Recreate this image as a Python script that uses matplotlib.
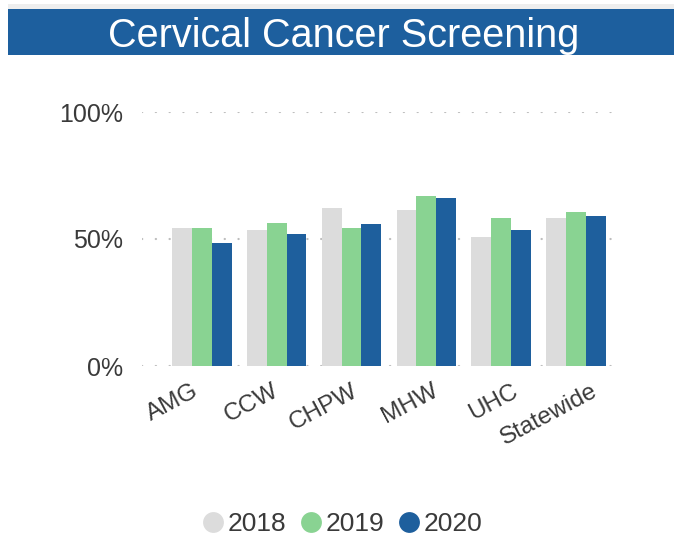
import matplotlib
matplotlib.use("Agg")
import matplotlib.pyplot as plt
import matplotlib.transforms as mtransforms
from matplotlib.patches import Rectangle
from matplotlib.lines import Line2D
import numpy as np

plt.rcParams['font.family'] = ['Liberation Sans', 'DejaVu Sans']

categories = ["AMG", "CCW", "CHPW", "MHW", "UHC", "Statewide"]
years = ["2018", "2019", "2020"]
v2018 = [0.542, 0.536, 0.621, 0.616, 0.509, 0.582]
v2019 = [0.542, 0.562, 0.542, 0.670, 0.582, 0.608]
v2020 = [0.483, 0.519, 0.558, 0.662, 0.537, 0.590]
yticks = [0, 0.5, 1.0]
ytick_labels = ["0%", "50%", "100%"]
title = "Cervical Cancer Screening"

colors = ["#DCDCDC", "#89D392", "#1E5F9D"]
banner = "#1D5F9E"
text_col = "#3A3A3A"

fig = plt.figure(figsize=(6.74, 5.35), dpi=100)
W, H = 674, 535

# light strip and banner
fig.patches.append(Rectangle((8 / W, 1 - 10 / H), 1 - 8 / W, 6 / H, transform=fig.transFigure,
                             facecolor="#EEEEEE", edgecolor="none"))
fig.patches.append(Rectangle((8 / W, 1 - 55 / H), 1 - 8 / W, 46 / H, transform=fig.transFigure,
                             facecolor=banner, edgecolor="none"))
fig.text(344 / W, 1 - 47 / H, title, color="white", fontsize=28.5, ha="center", va="baseline")

ax = fig.add_axes([142 / W, 1 - 366 / H, (620 - 142) / W, (366 - 112) / H])
x = np.arange(len(categories))
bw = 0.265
for i, (vals, c) in enumerate(zip([v2018, v2019, v2020], colors)):
    ax.bar(x + (i - 1) * bw, vals, width=bw, color=c, edgecolor="none", zorder=2)

ax.set_xlim(-0.8, 5.59)
ax.set_ylim(0, 1.0)
ax.set_yticks(yticks)
ax.set_yticklabels(ytick_labels)
ax.yaxis.grid(True, color="#BDBDBD", linestyle=(0, (0.1, 6.1)), linewidth=1.6, zorder=0,
              dash_capstyle="round")
ax.set_axisbelow(True)
for s in ax.spines.values():
    s.set_visible(False)
ax.tick_params(axis="y", length=0, pad=13.5, labelsize=18, labelcolor=text_col)
ax.set_xticks(x)
ax.set_xticklabels(categories, rotation=28, ha="right", rotation_mode="anchor",
                   fontsize=17.5, color=text_col)
ax.tick_params(axis="x", length=0, pad=10)
for i, lab in enumerate(ax.get_xticklabels()):
    off = mtransforms.ScaledTranslation((-10 + 5 * i) / 100, 0, fig.dpi_scale_trans)
    lab.set_transform(lab.get_transform() + off)

handles = [Line2D([], [], marker="o", linestyle="none", markersize=15, color=c, markeredgecolor="none")
           for c in colors]
fig.legend(handles, years, loc="center", bbox_to_anchor=(341 / W, 1 - 524 / H), ncol=3, frameon=False,
           fontsize=19, handletextpad=0.05, columnspacing=0.44, handlelength=1.0, labelcolor=text_col,
           borderaxespad=0)

fig.savefig("out.png", dpi=100, facecolor="white")
